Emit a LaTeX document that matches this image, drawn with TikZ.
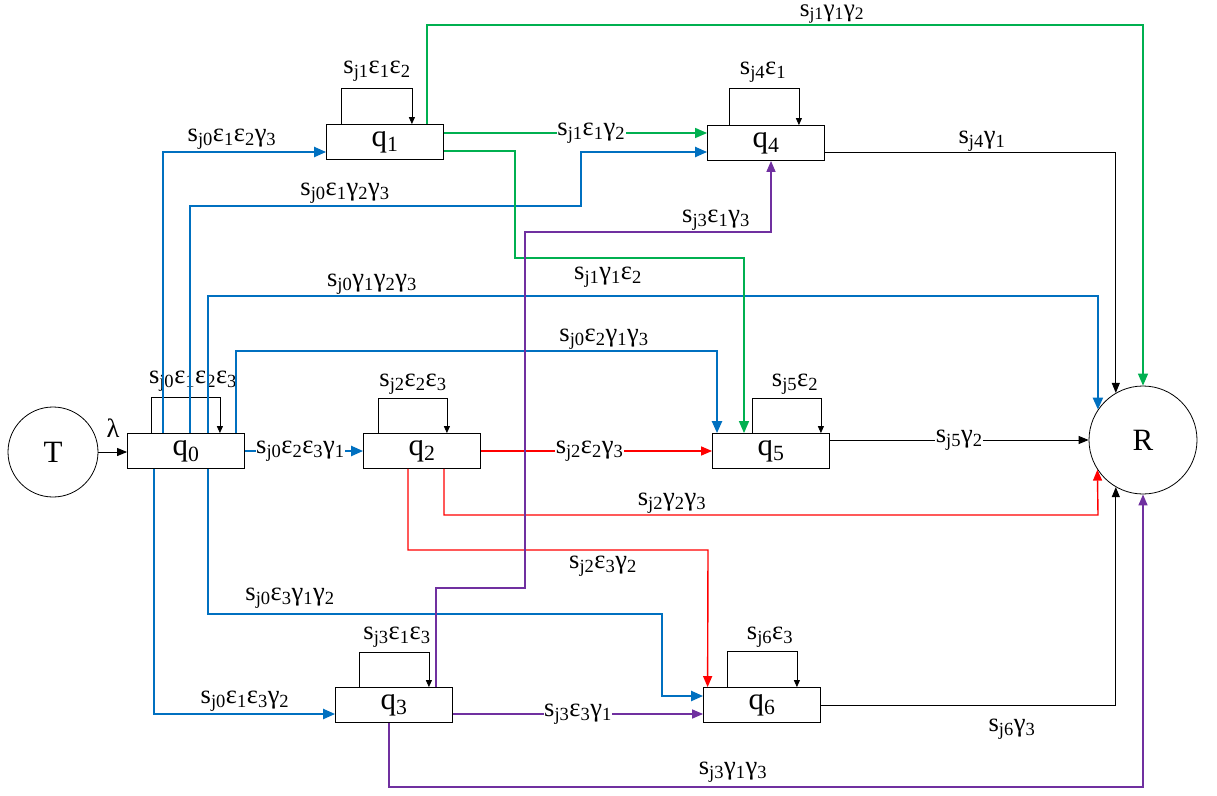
\documentclass[tikz,border=0pt]{standalone}
\usepackage{fontspec}
\setmainfont{Liberation Serif}
\usetikzlibrary{arrows.meta,calc}
\definecolor{cblue}{RGB}{0,112,192}
\definecolor{cgreen}{RGB}{0,176,80}
\definecolor{cred}{RGB}{255,0,0}
\definecolor{cpurple}{RGB}{112,48,160}
\newcommand\Sj[1]{s\textsubscript{j#1}}
\newcommand\Ep[1]{ε\textsubscript{#1}}
\newcommand\Ga[1]{γ\textsubscript{#1}}
\tikzset{
  state/.style={draw, line width=0.8pt, minimum width=117pt, minimum height=35pt, inner sep=0pt, font=\fontsize{31}{34}\selectfont},
  term/.style={draw, circle, line width=0.8pt, inner sep=0pt, font=\fontsize{31}{34}\selectfont},
  lbl/.style={inner sep=0.5pt, text=black, font=\fontsize{26.5}{29}\selectfont},
  inl/.style={lbl, fill=white},
  looparr/.style={draw, line width=0.8pt, -{Triangle[length=7pt,width=6pt]}},
  blk/.style={draw, line width=0.9pt, -{Triangle[length=10pt,width=8pt]}},
  blu/.style={draw=cblue, line width=2.2pt, -{Triangle[length=12pt,width=10pt]}, cblue},
  grn/.style={draw=cgreen, line width=1.4pt, -{Triangle[length=12pt,width=10pt]}, cgreen},
  rd/.style={draw=cred, line width=1.4pt, -{Triangle[length=11pt,width=9pt]}, cred},
  prp/.style={draw=cpurple, line width=1.4pt, -{Triangle[length=11pt,width=9pt]}, cpurple},
}
\begin{document}
\begin{tikzpicture}[x=1pt, y=-1pt]
\useasboundingbox (0,0) rectangle (1217,795);
% nodes
\node[term, minimum size=90pt] (T) at (53,452) {T};
\node[term, minimum size=108pt] (R) at (1143,440) {R};
\node[state] (q0) at (186,451) {q\textsubscript{0}};
\node[state] (q1) at (385,142) {q\textsubscript{1}};
\node[state] (q4) at (766,143) {q\textsubscript{4}};
\node[state] (q2) at (422,451) {q\textsubscript{2}};
\node[state] (q5) at (771,451) {q\textsubscript{5}};
\node[state] (q3) at (394,705) {q\textsubscript{3}};
\node[state] (q6) at (762,705) {q\textsubscript{6}};

% self loops
\draw[looparr] ([xshift=24pt]q0.north west) -- ++(0,-36) -| ([xshift=-25pt]q0.north east);
\node[lbl] (l0) at (193,381) {\Sj{0}\Ep{1}\Ep{2}\Ep{3}};
\draw[looparr] ([xshift=15pt]q1.north west) -- ++(0,-36) -| ([xshift=-32pt]q1.north east);
\node[lbl] (l1) at (377,71) {\Sj{1}\Ep{1}\Ep{2}};
\draw[looparr] ([xshift=22pt]q4.north west) -- ++(0,-37) -| ([xshift=-26pt]q4.north east);
\node[lbl] (l4) at (763,72) {\Sj{4}\Ep{1}};
\draw[looparr] ([xshift=15pt]q2.north west) -- ++(0,-35) -| ([xshift=-34pt]q2.north east);
\node[lbl] (l2) at (413,384) {\Sj{2}\Ep{2}\Ep{3}};
\draw[looparr] ([xshift=40pt]q5.north west) -- ++(0,-35) -| ([xshift=-9pt]q5.north east);
\node[lbl] (l5) at (795,384) {\Sj{5}\Ep{2}};
\draw[looparr] ([xshift=24pt]q3.north west) -- ++(0,-35) -| ([xshift=-24pt]q3.north east);
\node[lbl] (l3) at (397,637) {\Sj{3}\Ep{1}\Ep{3}};
\draw[looparr] ([xshift=24pt]q6.north west) -- ++(0,-36) -| ([xshift=-24pt]q6.north east);
\node[lbl] (l6) at (770,637) {\Sj{6}\Ep{3}};

% T -> q0
\draw[blk] (T.east) -- (T.east -| q0.west);
\node[lbl] (lam) at (113,428) {λ};

% from q0 (blue)
\draw[blu] ([xshift=36pt]q0.north west) |- ([yshift=-10pt]q1.west);
\node[lbl] at (232,139) {\Sj{0}\Ep{1}\Ep{2}\Ga{3}};
\draw[blu] ([xshift=63pt]q0.north west) |- (581,206) |- ([yshift=-9pt]q4.west);
\node[lbl] at (345,193) {\Sj{0}\Ep{1}\Ga{2}\Ga{3}};
\draw[blu] ([xshift=81pt]q0.north west) -- ++(0,-137) -| (R.146.4);
\node[lbl] at (372,284) {\Sj{0}\Ga{1}\Ga{2}\Ga{3}};
\draw[blu] ([xshift=109pt]q0.north west) -- ++(0,-82) -| ([xshift=-54pt]q5.north);
\node[lbl] at (604,339) {\Sj{0}\Ep{2}\Ga{1}\Ga{3}};
\draw[blu] ([xshift=81pt]q0.south west) |- (662,614) |- ([yshift=9pt]q6.west);
\node[lbl] at (290,598) {\Sj{0}\Ep{3}\Ga{1}\Ga{2}};
\draw[blu] ([xshift=27pt]q0.south west) |- ([yshift=-9pt]q3.west);
\node[lbl] at (245,701) {\Sj{0}\Ep{1}\Ep{3}\Ga{2}};
\draw[blu] (q0.east) -- (q2.west) node[inl, pos=0.47] {\Sj{0}\Ep{2}\Ep{3}\Ga{1}};

% from q1 (green)
\draw[grn] ([yshift=9pt]q1.east) -- ([yshift=10pt]q4.west) node[inl, pos=0.56] {\Sj{1}\Ep{1}\Ga{2}};
\draw[grn] ([yshift=-9pt]q1.east) -| (515,258) -| ([xshift=-27pt]q5.north);
\node[lbl] at (608,277) {\Sj{1}\Ga{1}\Ep{2}};
\draw[grn] ([xshift=42pt]q1.north) |- (1143,25) -- (R.north);
\node[lbl, font=\fontsize{25}{27}\selectfont] at (832,14) {\Sj{1}\Ga{1}\Ga{2}};

% from q4
\draw[blk] ([yshift=-9pt]q4.east) -| (R.120);
\node[lbl] at (982,141) {\Sj{4}\Ga{1}};

% from q2 (red)
\draw[rd] (q2.east) -- (q5.west) node[inl, pos=0.47] {\Sj{2}\Ep{2}\Ga{3}};
\draw[rd] ([xshift=22pt]q2.south) |- (1098,515) -- (R.213.6);
\node[lbl] at (672,503) {\Sj{2}\Ga{2}\Ga{3}};
\draw[rd] ([xshift=-14pt]q2.south) |- (708,550) -- ([xshift=4.5pt]q6.north west);
\node[lbl] at (603,566) {\Sj{2}\Ep{3}\Ga{2}};

% from q3 (purple)
\draw[prp] ([xshift=42pt]q3.north) |- (525,588) |- (771,232) -- ([xshift=5pt]q4.south);
\node[lbl] at (716,220) {\Sj{3}\Ep{1}\Ga{3}};
\draw[prp] ([yshift=-9pt]q3.east) -- ([yshift=-9pt]q6.west) node[inl, pos=0.5] {\Sj{3}\Ep{3}\Ga{1}};
\draw[prp] ([xshift=-5pt]q3.south) |- (1143,787) -- (R.south);
\node[lbl] at (733,772) {\Sj{3}\Ga{1}\Ga{3}};

% from q5, q6 (black)
\draw[blk] (q5.east |- R.west) -- (R.west) node[inl, pos=0.5] {\Sj{5}\Ga{2}};
\draw[blk] (q6.east) -| (R.240);
\node[lbl] at (1012,729) {\Sj{6}\Ga{3}};
\end{tikzpicture}
\end{document}
